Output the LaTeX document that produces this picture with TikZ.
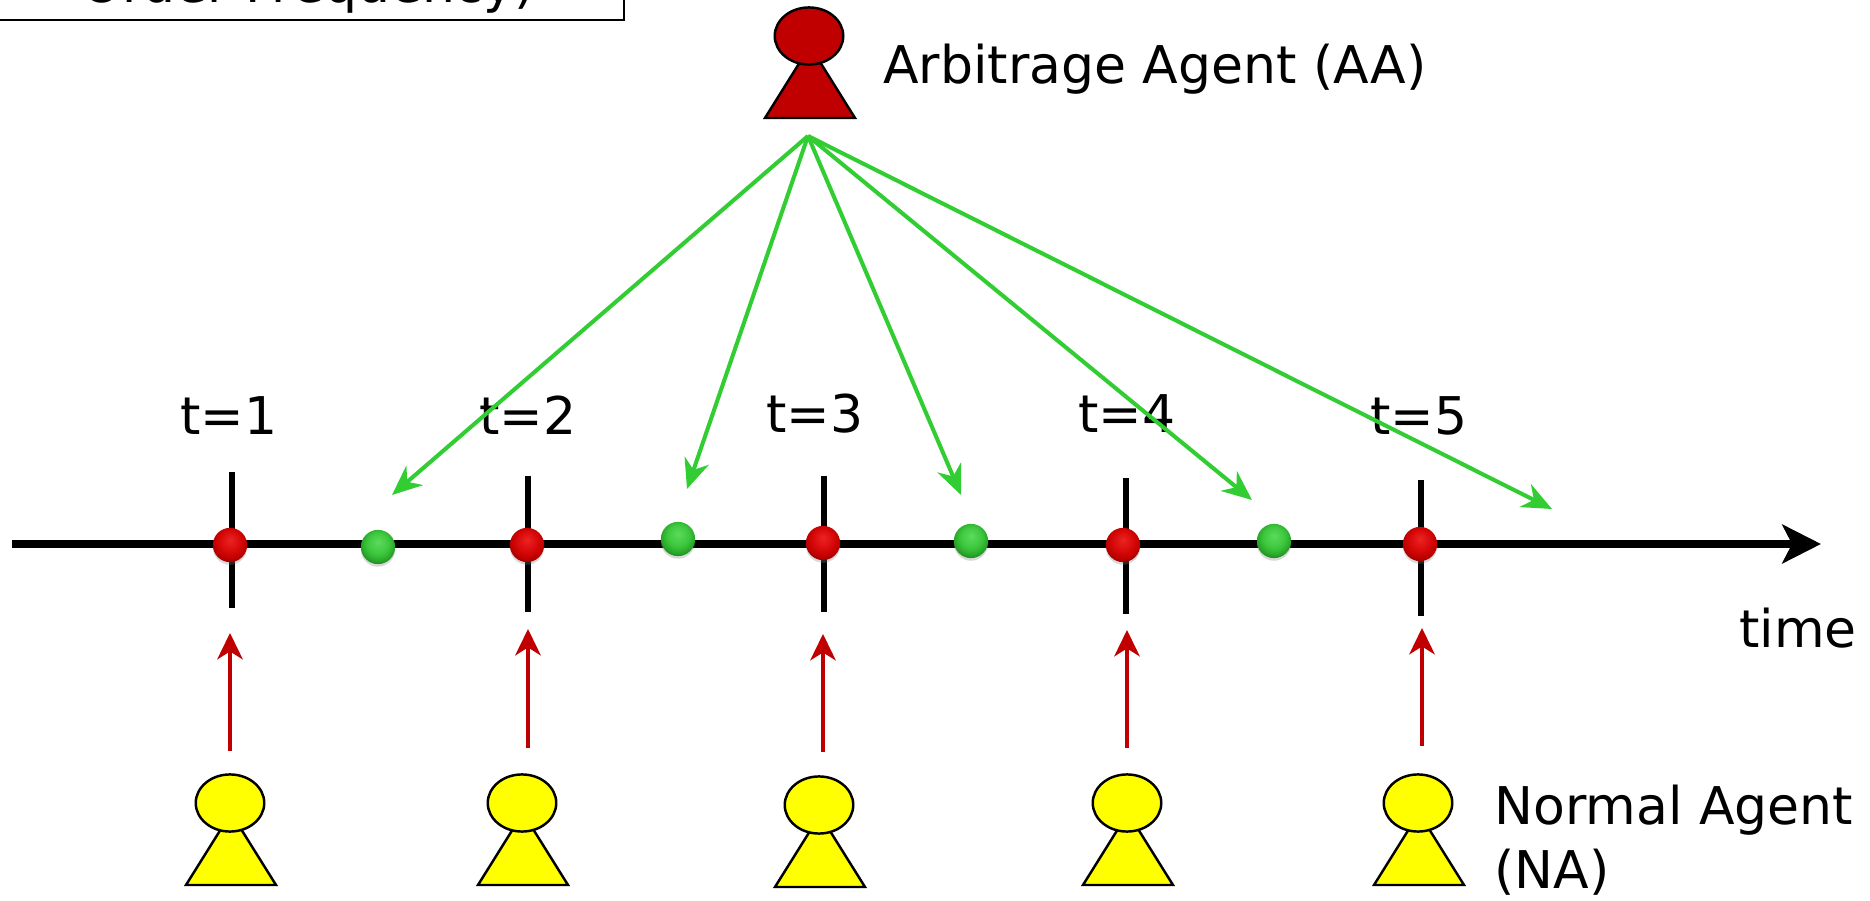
\documentclass[tikz,border=0pt]{standalone}
\usepackage{fontspec}
\setmainfont{DejaVu Sans}
\usetikzlibrary{arrows.meta,shapes.geometric,shadows}
\definecolor{aared}{HTML}{C00000}
\definecolor{nayellow}{HTML}{FFFF00}
\definecolor{ordergreen}{HTML}{32CD32}
\pgfdeclareradialshading{redglow}{\pgfpoint{0bp}{8bp}}{
  rgb(0bp)=(.92,.14,.14); rgb(16bp)=(.84,.03,.03); rgb(24bp)=(.74,0,0); rgb(30bp)=(.56,0,0); rgb(33bp)=(.40,0,0); rgb(50bp)=(.40,0,0)}
\pgfdeclareradialshading{greenglow}{\pgfpoint{0bp}{8bp}}{
  rgb(0bp)=(.36,.86,.36); rgb(16bp)=(.24,.78,.24); rgb(24bp)=(.16,.66,.16); rgb(30bp)=(.13,.50,.13); rgb(33bp)=(.10,.36,.10); rgb(50bp)=(.10,.36,.10)}
\tikzset{
  agenthead/.style={ellipse,draw=black,line width=1.4pt,minimum width=39pt,minimum height=32.5pt,inner sep=0pt},
  agentbody/.style={draw=black,line width=1.4pt,line join=miter},
  timeaxis/.style={line width=4.5pt,-{Stealth[length=22pt,width=22pt,inset=5.5pt]}},
  tickline/.style={line width=3.4pt},
  normalorder/.style={draw=aared,line width=2.3pt,-{Stealth[length=15pt,width=14.5pt,inset=4.5pt]}},
  arbitorder/.style={draw=ordergreen,line width=2.3pt,-{Stealth[length=17pt,width=14.5pt,inset=5.5pt]}},
  redball/.style={circle,inner sep=0pt,minimum size=19.5pt,shading=redglow,drop shadow={opacity=.3,shadow xshift=0pt,shadow yshift=-1.5pt}},
  greenball/.style={circle,inner sep=0pt,minimum size=19.5pt,shading=greenglow,drop shadow={opacity=.3,shadow xshift=0pt,shadow yshift=-1.5pt}},
  bigtext/.style={font=\fontsize{29.6pt}{36pt}\selectfont,inner sep=0pt}
}
\begin{document}
\begin{tikzpicture}[x=0.02cm,y=-0.02cm]
\useasboundingbox (0,0) rectangle (1870,901);

% clipped box, top left
\node[bigtext,anchor=base] (freqlabel) at (308,3) {Order Frequency)};
\draw[line width=1.1pt] (-5,-5) -- (-5,20) -- (624,20) -- (624,-5);

% labels
\node[bigtext,anchor=base west] (aalabel) at (883,84) {Arbitrage Agent (AA)};
\node[bigtext,anchor=base] (t1) at (229,435) {t=1};
\node[bigtext,anchor=base] (t2) at (528,435) {t=2};
\node[bigtext,anchor=base] (t3) at (815,433) {t=3};
\node[bigtext,anchor=base] (t4) at (1127,433) {t=4};
\node[bigtext,anchor=base] (t5) at (1419,435) {t=5};
\node[bigtext,anchor=base east] (timelabel) at (1857,648) {time};
\node[bigtext,anchor=base west] (nalabel) at (1494,825) {Normal Agent};
\node[bigtext,anchor=base west] (nalabelb) at (1494,888) {(NA)};

% time axis
\coordinate (axisstart) at (12,544);
\coordinate (axisend) at (1821,544);
\draw[timeaxis] (axisstart) -- (axisend);

% ticks
\draw[tickline] (232,472) -- (232,608);
\draw[tickline] (528,476) -- (528,612);
\draw[tickline] (824,476) -- (824,612);
\draw[tickline] (1126,478) -- (1126,614);
\draw[tickline] (1421,480) -- (1421,616);

% normal agent orders
\node[redball] (r1) at (230,545) {};
\node[redball] (r2) at (527,545) {};
\node[redball] (r3) at (823,543) {};
\node[redball] (r4) at (1123,545) {};
\node[redball] (r5) at (1420,544) {};

% arbitrage agent orders
\node[greenball] (g1) at (378,547) {};
\node[greenball] (g2) at (678,539) {};
\node[greenball] (g3) at (971,541) {};
\node[greenball] (g4) at (1274,541) {};

% arbitrage agent
\draw[agentbody,fill=aared] (765,118) -- (810,46) -- (855,118) -- cycle;
\node[agenthead,fill=aared] (aa) at (809,36) {};

% normal agents
\draw[agentbody,fill=nayellow] (186,885) -- (231,813) -- (276,885) -- cycle;
\node[agenthead,fill=nayellow] (na1) at (230,803) {};
\draw[agentbody,fill=nayellow] (478,885) -- (523,813) -- (568,885) -- cycle;
\node[agenthead,fill=nayellow] (na2) at (522,803) {};
\draw[agentbody,fill=nayellow] (775,887) -- (820,815) -- (865,887) -- cycle;
\node[agenthead,fill=nayellow] (na3) at (819,805) {};
\draw[agentbody,fill=nayellow] (1083,885) -- (1128,813) -- (1173,885) -- cycle;
\node[agenthead,fill=nayellow] (na4) at (1127,803) {};
\draw[agentbody,fill=nayellow] (1374,885) -- (1419,813) -- (1464,885) -- cycle;
\node[agenthead,fill=nayellow] (na5) at (1418,803) {};

% red arrows
\coordinate (nafoot1) at (230,751);
\coordinate (nafoot2) at (528,748);
\coordinate (nafoot3) at (823,752);
\coordinate (nafoot4) at (1127,748);
\coordinate (nafoot5) at (1422,746);
\coordinate (natip1) at (230,633);
\coordinate (natip2) at (528,629);
\coordinate (natip3) at (823,634);
\coordinate (natip4) at (1127,630);
\coordinate (natip5) at (1422,628);
\draw[normalorder] (nafoot1) -- (natip1);
\draw[normalorder] (nafoot2) -- (natip2);
\draw[normalorder] (nafoot3) -- (natip3);
\draw[normalorder] (nafoot4) -- (natip4);
\draw[normalorder] (nafoot5) -- (natip5);

% green arrows
\coordinate (aafoot) at (808,136);
\coordinate (aatip1) at (392,495);
\coordinate (aatip2) at (687,489);
\coordinate (aatip3) at (961,495);
\coordinate (aatip4) at (1252,500);
\coordinate (aatip5) at (1552,509);
\draw[arbitorder] (aafoot) -- (aatip1);
\draw[arbitorder] (aafoot) -- (aatip2);
\draw[arbitorder] (aafoot) -- (aatip3);
\draw[arbitorder] (aafoot) -- (aatip4);
\draw[arbitorder] (aafoot) -- (aatip5);

\end{tikzpicture}
\end{document}
